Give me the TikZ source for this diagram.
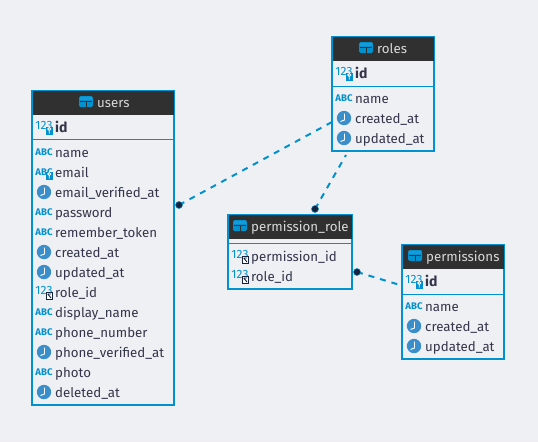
\documentclass[tikz,border=0pt]{standalone}
\usepackage{fontspec}
\setmainfont{Fira Sans}
\definecolor{linkblue}{HTML}{0091CE}
\definecolor{iconblue}{HTML}{3A8FCB}
\definecolor{headdark}{HTML}{303030}
\definecolor{pagegrey}{HTML}{EFF0F3}
\definecolor{rowtext}{HTML}{33354A}
\definecolor{dotnavy}{HTML}{16233F}
\tikzset{
   tablebox/.style={draw=linkblue,line width=2pt,inner sep=0pt,anchor=north west},
   headbar/.style={fill=headdark,draw=none,inner sep=0pt,outer sep=0pt,anchor=north west},
   headtext/.style={text=white!85!black,font=\fontsize{13.3}{13}\selectfont,inner sep=0pt,anchor=base west},
   rowlabel/.style={text=rowtext,font=\fontsize{13.3}{13}\selectfont,inner sep=0pt,anchor=base west},
   idlabel/.style={rowlabel,font=\fontsize{14}{13}\selectfont\bfseries},
   fklink/.style={linkblue,line width=2pt,dash pattern=on 6pt off 6pt},
   fkdot/.style={circle,fill=dotnavy,draw=linkblue,line width=.5pt,minimum size=7pt,inner sep=0pt},
   icontext/.style={text=linkblue,inner sep=0pt,font=\fontsize{9.6}{9}\selectfont\bfseries},
   numtext/.style={text=linkblue,inner sep=0pt,font=\fontsize{12}{10}\selectfont},
}
% small icons, #1 = x, #2 = y of the row centre
\newcommand{\abcicon}[2]{\node[icontext] at (#1,#2) {ABC};}
\newcommand{\clockicon}[2]{
   \fill[iconblue] (#1,#2) circle (7.2);
   \draw[white,line width=.9pt] (#1+.5,#2-4.5) -- (#1+.5,#2+2) -- (#1-3.5,#2+3.5);
}
\newcommand{\keybadge}[2]{
   \fill[linkblue] (#1+2,#2-.5) rectangle (#1+8.5,#2+8);
   \draw[white,line width=.8pt] (#1+5.2,#2+2) circle (1.5) (#1+5.2,#2+3.5) -- (#1+5.2,#2+6.5);
}
\newcommand{\numicon}[2]{\node[numtext] at (#1,#2-2) {123};}
\newcommand{\keyicon}[2]{\numicon{#1}{#2}\keybadge{#1}{#2}}
\newcommand{\fkicon}[2]{\numicon{#1}{#2}
   \fill[white] (#1+2,#2) rectangle (#1+8.5,#2+7.5);
   \draw[dotnavy,line width=.9pt] (#1+2,#2) rectangle (#1+8.5,#2+7.5);
   \draw[dotnavy,line width=.9pt] (#1+3.8,#2+2) -- (#1+7,#2+2) (#1+3.8,#2+2) -- (#1+7,#2+6);
}
\newcommand{\mailicon}[2]{\abcicon{#1}{#2}\keybadge{#1}{#2}}
\newcommand{\tableicon}[2]{
   \fill[linkblue,rounded corners=1.5pt] (#1,#2) rectangle (#1+14,#2+11);
   \fill[cyan!60!linkblue] (#1+1,#2+1) rectangle (#1+13,#2+4);
   \fill[headdark] (#1+1,#2+5.2) rectangle (#1+13,#2+6);
   \fill[headdark] (#1+6.6,#2+5.2) rectangle (#1+7.4,#2+11);
}
\begin{document}
\begin{tikzpicture}[x=1pt,y=-1pt]
   \fill[pagegrey] (0,0) rectangle (538,442);

   % Links
   \coordinate (usersdot) at (179,205);
   \coordinate (rolesleft) at (332,122);
   \coordinate (rolesfoot) at (346,155);
   \coordinate (pivotdot) at (315,209);
   \coordinate (pivotside) at (357,272);
   \coordinate (permsleft) at (400,285);
   \draw[fklink] (usersdot) -- (rolesleft);
   \draw[fklink] (pivotdot) -- (rolesfoot);
   \draw[fklink] (pivotside) -- (permsleft);
   \node[fkdot] (usersend) at (usersdot) {};
   \node[fkdot] (pivotend) at (pivotdot) {};
   \node[fkdot] (pivotsideend) at (pivotside) {};

   % users
   \node[tablebox,minimum width=142pt,minimum height=314pt] (users) at (31,89.5) {};
   \node[headbar,minimum width=141pt,minimum height=23.5pt] (usershead) at (32.5,91) {};
   \tableicon{79}{96}
   \node[headtext] (userstitle) at (97,107) {users};
   \draw[linkblue,line width=1pt] (33,139) -- (175,139);
   \keyicon{44}{127}
   \node[idlabel] (usersid) at (55,132) {id};
   \foreach \y/\icon/\name in {152/abc/name,172/mail/email,192/clock/email\_verified\_at,
      212/abc/password,232/abc/remember\_token,252/clock/created\_at,272/clock/updated\_at,
      292/fk/role\_id,312/abc/display\_name,332/abc/phone\_number,352/clock/phone\_verified\_at,
      372/abc/photo,392/clock/deleted\_at}{
      \csname\icon icon\endcsname{44}{\y}
      \node[rowlabel] (users\y) at (55,\y+5) {\name};
   }

   % roles
   \node[tablebox,minimum width=102pt,minimum height=114pt] (roles) at (331,35.5) {};
   \node[headbar,minimum width=101pt,minimum height=23.5pt] (roleshead) at (332.5,37) {};
   \tableicon{359}{42}
   \node[headtext] (rolestitle) at (377,53) {roles};
   \draw[linkblue,line width=1pt] (333,86) -- (435,86);
   \keyicon{344}{73}
   \node[idlabel] (rolesid) at (355,78) {id};
   \foreach \y/\icon/\name in {98/abc/name,118/clock/created\_at,138/clock/updated\_at}{
      \csname\icon icon\endcsname{344}{\y}
      \node[rowlabel] (roles\y) at (355,\y+5) {\name};
   }

   % permission_role
   \node[tablebox,minimum width=124pt,minimum height=74pt] (pivot) at (227,213.5) {};
   \node[headbar,minimum width=123pt,minimum height=23.5pt] (pivothead) at (228.5,215) {};
   \tableicon{233}{220}
   \node[headtext] (pivottitle) at (251,231) {permission\_role};
   \draw[linkblue,line width=1pt] (229,243) -- (353,243);
   \foreach \y/\icon/\name in {256/fk/permission\_id,276/fk/role\_id}{
      \csname\icon icon\endcsname{240}{\y}
      \node[rowlabel] (pivot\y) at (251,\y+5) {\name};
   }

   % permissions
   \node[tablebox,minimum width=102pt,minimum height=114pt] (perms) at (401,243.5) {};
   \node[headbar,minimum width=101pt,minimum height=23.5pt] (permshead) at (402.5,245) {};
   \tableicon{408}{250}
   \node[headtext] (permstitle) at (426,261) {permissions};
   \draw[linkblue,line width=1pt] (403,294) -- (505,294);
   \keyicon{414}{281}
   \node[idlabel] (permsid) at (425,286) {id};
   \foreach \y/\icon/\name in {306/abc/name,326/clock/created\_at,346/clock/updated\_at}{
      \csname\icon icon\endcsname{414}{\y}
      \node[rowlabel] (perms\y) at (425,\y+5) {\name};
   }
\end{tikzpicture}
\end{document}
